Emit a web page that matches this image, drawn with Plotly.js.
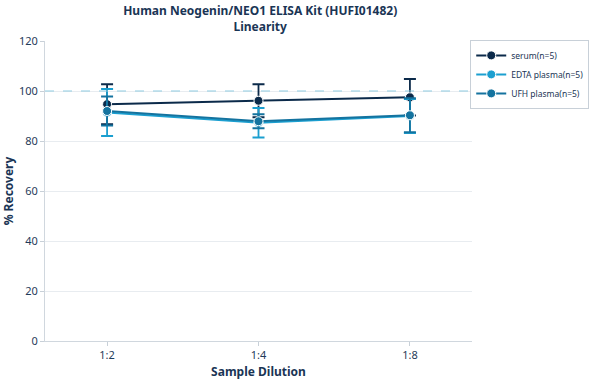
<!DOCTYPE html>
<html><head><meta charset="utf-8">
<script src="https://cdn.plot.ly/plotly-3.0.1.min.js"></script>
<style>html,body{margin:0;padding:0;background:#fff}#chart{width:590px;height:380px}</style>
</head><body><div id="chart"></div>
<script>
const dilutions = ["1:2", "1:4", "1:8"];
const serumMean = [94.7, 96.1, 97.5];
const serumErr = [8.0, 6.6, 7.3];
const edtaMean = [91.4, 87.3, 90.0];
const edtaErr = [9.4, 5.9, 6.8];
const ufhMean = [92.0, 87.9, 90.3];
const ufhErr = [5.8, 2.8, 6.8];
const seriesNames = ["serum(n=5)", "EDTA plasma(n=5)", "UFH plasma(n=5)"];
const colors = ["#0b2a4a", "#1b9fd0", "#14739f"];

function tr(name, y, err, color) {
  return {
    type: "scatter", mode: "lines+markers", name: name,
    x: dilutions, y: y,
    line: {color: color, width: 2},
    marker: {color: color, size: 9, line: {color: "#ffffff", width: 1}},
    error_y: {type: "data", array: err, visible: true, color: color, thickness: 1.8, width: 6}
  };
}
const data = [
  tr(seriesNames[0], serumMean, serumErr, colors[0]),
  tr(seriesNames[1], edtaMean, edtaErr, colors[1]),
  tr(seriesNames[2], ufhMean, ufhErr, colors[2])
];
const layout = {
  width: 590, height: 380,
  margin: {l: 45, r: 118, t: 41, b: 39, autoexpand: false},
  paper_bgcolor: "#fff", plot_bgcolor: "#fff",
  font: {family: "Noto Sans, Open Sans, sans-serif", size: 11, color: "#1f3b5a"},
  title: {text: "<b>Human Neogenin/NEO1 ELISA Kit (HUFI01482)<br>Linearity</b>", x: 0.441, xanchor: "center", xref: "container", yref: "container", y: 0.96, yanchor: "top", font: {size: 12, color: "#1a3555"}},
  xaxis: {
    type: "category", range: [-0.41, 2.41],
    title: {text: "<b>Sample Dilution</b>", font: {size: 12, color: "#1a3555"}, standoff: 6},
    showline: true, linecolor: "#d0d7de", linewidth: 1, ticks: "outside", ticklen: 4, tickcolor: "#c8d0d8",
    showgrid: false, zeroline: false
  },
  yaxis: {
    range: [0, 120], dtick: 20,
    title: {text: "<b>% Recovery</b>", font: {size: 12, color: "#1a3555"}, standoff: 4},
    showline: true, linecolor: "#d0d7de", linewidth: 1, ticks: "outside", ticklen: 4, tickcolor: "#c8d0d8",
    showgrid: true, gridcolor: "#e8ecf0", zeroline: false
  },
  shapes: [{type: "line", xref: "paper", x0: 0, x1: 1, yref: "y", y0: 100, y1: 100,
    line: {color: "#8fcbe0", width: 1, dash: "dash"}}],
  legend: {xref: "container", yref: "container", x: 0.797, xanchor: "left", y: 0.895, yanchor: "top", bordercolor: "#c8d0d8", borderwidth: 1,
    font: {size: 8.5, color: "#1a3555"}, bgcolor: "#fff", tracegroupgap: 0, itemwidth: 30}
};
Plotly.newPlot("chart", data, layout, {displayModeBar: false});
</script></body></html>
